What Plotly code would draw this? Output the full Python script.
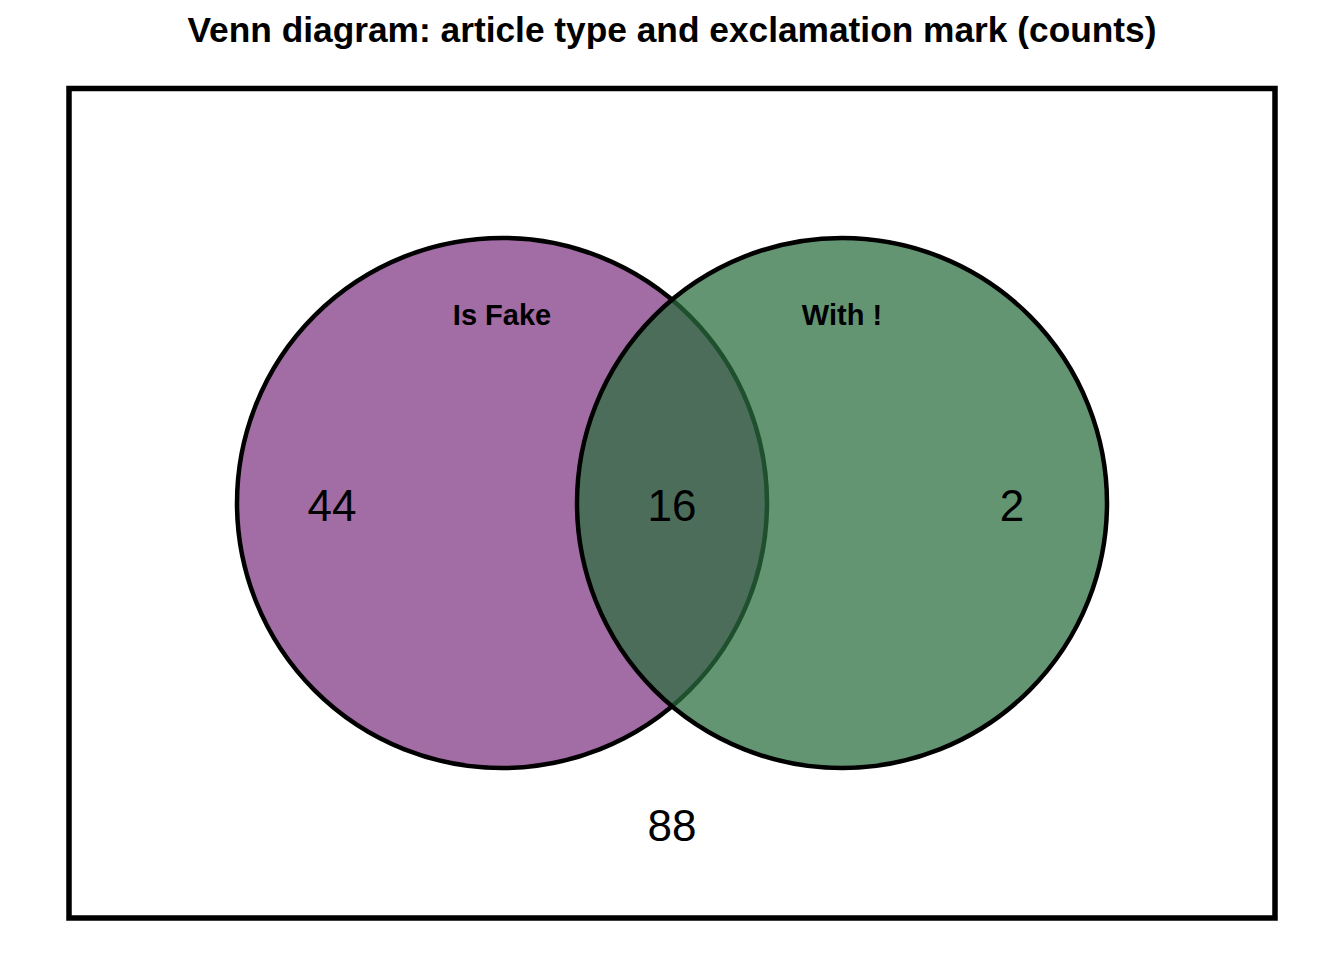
import plotly.graph_objects as go

# Venn counts
set_names = ["Is Fake", "With !"]
region_names = ["Is Fake only", "Both", "With ! only", "Neither"]
region_counts = [44, 16, 2, 88]

# colours
fill_fake = "rgb(162,108,164)"
fill_excl = "rgba(43,110,63,0.73)"

# geometry (pixel-like units, y goes down); page body adds an 8px offset
W, H = 1344, 960
off = 8
cx = 672
cy = 503
r = 265
half_d = 170
box = dict(x0=69, x1=1275, y0=88.5, y1=918)

centres = [cx - half_d, cx + half_d]
num_x = [cx - 2 * half_d, cx, cx + 2 * half_d, cx]
num_y = [cy + 7, cy + 7, cy + 7, 830]
lab_y = cy - 185

fig = go.Figure()

shapes = [
    dict(type="rect", xref="x", yref="y", **box,
         line=dict(color="black", width=5.5), fillcolor="rgba(0,0,0,0)", layer="below"),
    dict(type="circle", xref="x", yref="y",
         x0=centres[0] - r, x1=centres[0] + r, y0=cy - r, y1=cy + r,
         fillcolor=fill_fake, line=dict(color="black", width=4.5), layer="below"),
    dict(type="circle", xref="x", yref="y",
         x0=centres[1] - r, x1=centres[1] + r, y0=cy - r, y1=cy + r,
         fillcolor=fill_excl, line=dict(color="black", width=4.5), layer="below"),
]

# region counts
fig.add_trace(go.Scatter(
    x=num_x, y=num_y, mode="text",
    text=[str(v) for v in region_counts],
    textfont=dict(family="Liberation Sans, Arial", size=44, color="black"),
    hovertext=region_names, hoverinfo="text", showlegend=False))

# set labels
fig.add_trace(go.Scatter(
    x=centres, y=[lab_y, lab_y], mode="text",
    text=["<b>" + s + "</b>" for s in set_names],
    textfont=dict(family="Liberation Sans, Arial", size=29, color="black"),
    hoverinfo="skip", showlegend=False))

fig.update_layout(
    width=W, height=H,
    margin=dict(l=0, r=0, t=0, b=0),
    paper_bgcolor="white", plot_bgcolor="white",
    shapes=shapes,
    xaxis=dict(range=[off, W + off], visible=False, fixedrange=True),
    yaxis=dict(range=[H + off, off], visible=False, fixedrange=True),
    title=dict(text="<b>Venn diagram: article type and exclamation mark (counts)</b>",
               x=(cx - off) / W, xanchor="center", y=1 - (30 - off) / H, yanchor="middle",
               font=dict(family="Liberation Sans, Arial", size=35.3, color="black")),
)

fig.write_html("out.html")
